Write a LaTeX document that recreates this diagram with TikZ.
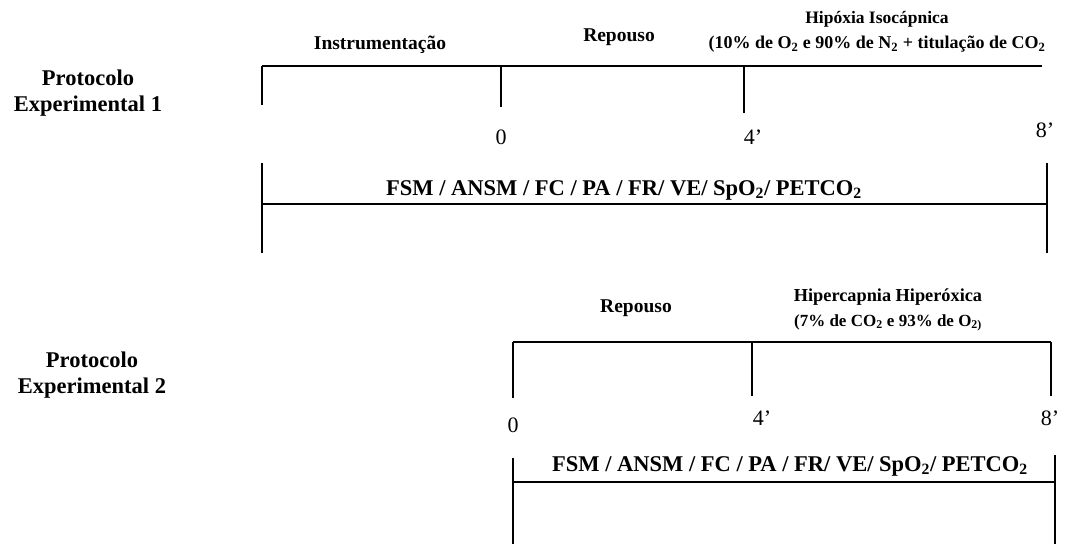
\documentclass[tikz,border=0pt]{standalone}
\usepackage{fontspec}
\setmainfont{Liberation Serif}
\newcommand{\sz}[1]{\fontsize{#1}{#1}\selectfont}
\begin{document}
\begin{tikzpicture}[x=1pt,y=-1pt,
  ln/.style={line width=1.3pt,black},
  lbl/.style={inner sep=0pt,font=\fontsize{19.5}{25}\selectfont\bfseries,align=center},
  prot/.style={inner sep=0pt,font=\fontsize{22.5}{26}\selectfont\bfseries,align=center},
  num/.style={inner sep=0pt,font=\fontsize{22}{24}\selectfont},
  meas/.style={inner sep=0pt,font=\fontsize{22.5}{24}\selectfont\bfseries}]
\useasboundingbox (0,0) rectangle (1076,544);
% Protocol labels
\node[prot] (p1) at (88,93) {Protocolo\\Experimental 1};
\node[prot] (p2) at (92,375) {Protocolo\\Experimental 2};
% Timeline 1
\coordinate (a0) at (262,66);
\coordinate (a1) at (501,66);
\coordinate (a2) at (744,66);
\coordinate (a3) at (1042,66);
\coordinate (a0b) at (262,105);
\coordinate (a1b) at (501,107);
\coordinate (a2b) at (744,113);
\draw[ln] (a0) -- (a3);
\draw[ln] (a0) -- (a0b);
\draw[ln] (a1) -- (a1b);
\draw[ln] (a2) -- (a2b);
\node[lbl] (t1) at (380,45) {Instrumentação};
\node[lbl] (t2) at (619,37) {Repouso};
\node[lbl] (t3) at (877,32) {{\sz{17.5}Hipóxia Isocápnica}\\{\sz{18}(10\% de O\textsubscript{2} e 90\% de N\textsubscript{2} + titulação de CO\textsubscript{2}}};
\node[num] (n10) at (501,137) {0};
\node[num] (n14) at (753,137) {4’};
\node[num] (n18) at (1045,130) {8’};
% Bar 1
\coordinate (b0) at (262,163);
\coordinate (b0b) at (262,253);
\coordinate (b1) at (1047,163);
\coordinate (b1b) at (1047,253);
\coordinate (bl) at (262,204);
\coordinate (br) at (1047,204);
\draw[ln] (b0) -- (b0b);
\draw[ln] (b1) -- (b1b);
\draw[ln] (bl) -- (br);
\node[meas] (m1) at (624,190) {FSM / ANSM / FC / PA / FR/ VE/ SpO\textsubscript{2}/ PETCO\textsubscript{2}};
% Timeline 2
\coordinate (c0) at (513,342);
\coordinate (c1) at (752,342);
\coordinate (c2) at (1051,342);
\coordinate (c0b) at (513,398);
\coordinate (c1b) at (752,396);
\coordinate (c2b) at (1051,396);
\draw[ln] (c0) -- (c2);
\draw[ln] (c0) -- (c0b);
\draw[ln] (c1) -- (c1b);
\draw[ln] (c2) -- (c2b);
\node[lbl] (u1) at (636,308) {Repouso};
\node[lbl] (u2) at (888,310) {{\sz{18.3}Hipercapnia Hiperóxica}\\{\sz{17}(7\% de CO\textsubscript{2} e 93\% de O\textsubscript{2)}}};
\node[num] (n20) at (513,425) {0};
\node[num] (n24) at (762,418) {4’};
\node[num] (n28) at (1050,418) {8’};
% Bar 2
\coordinate (d0) at (513,458);
\coordinate (d0b) at (513,544);
\coordinate (d1) at (1055,455);
\coordinate (d1b) at (1055,544);
\coordinate (dl) at (513,482);
\coordinate (dr) at (1055,482);
\draw[ln] (d0) -- (d0b);
\draw[ln] (d1) -- (d1b);
\draw[ln] (dl) -- (dr);
\node[meas] (m2) at (790,466) {FSM / ANSM / FC / PA / FR/ VE/ SpO\textsubscript{2}/ PETCO\textsubscript{2}};
\end{tikzpicture}
\end{document}
